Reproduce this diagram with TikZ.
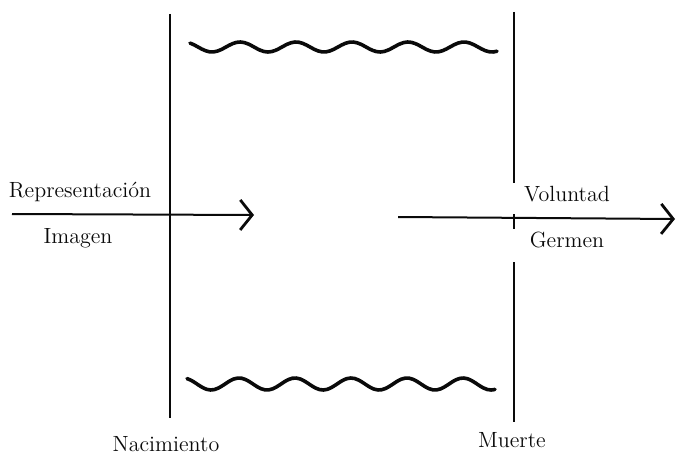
\documentclass[tikz,border=0pt]{standalone}
\usepackage{tikz}
\usetikzlibrary{arrows.meta, positioning}
\usepackage{xcolor}
\definecolor{ink}{RGB}{10,10,10}

\begin{document}
\begin{tikzpicture}[
    x=0.5pt, y=-0.5pt,
    label/.style={anchor=base, inner sep=0pt, font=\fontsize{11}{13}\selectfont, text=ink},
    limit/.style={line width=1.3pt, ink},
    arr/.style={-{Straight Barb[length=6pt, width=15pt, line width=1.4pt]}, line width=1pt, ink},
    wave/.style={line width=1.8pt, ink, line cap=round, smooth},
]
\useasboundingbox (0,0) rectangle (678,454);

% labels
\node[label] (rep) at (80,198) {Representación};
\node[label] (img) at (78,243) {Imagen};
\node[label] (vol) at (567,201) {Voluntad};
\node[label] (ger) at (567,247) {Germen};
\node[label] (nac) at (166,451) {Nacimiento};
\node[label] (mue) at (512,447) {Muerte};

% limits
\coordinate (nacTop) at (170,14);
\coordinate (nacBot) at (170,418);
\coordinate (mueTop) at (514,12);
\coordinate (mueA) at (514,183);
\coordinate (mueB) at (514,214);
\coordinate (mueC) at (514,229);
\coordinate (mueD) at (514,262);
\coordinate (mueBot) at (514,422);

\draw[limit] (nacTop) -- (nacBot);
\draw[limit] (mueTop) -- (mueA);
\draw[limit] (mueB) -- (mueC);
\draw[limit] (mueD) -- (mueBot);

% arrows
\coordinate (inStart) at (12,214);
\coordinate (inEnd) at (254,215);
\coordinate (outStart) at (398,217);
\coordinate (outEnd) at (675,219);

\draw[arr] (inStart) -- (inEnd);
\draw[arr] (outStart) -- (outEnd);

% waves
\draw[wave] plot[domain=190:497, samples=80] (\x, {47+5*cos(6.4286*(\x-212))});
\draw[wave] plot[domain=187:495, samples=80] (\x, {384+6*cos(6.4286*(\x-211))});

\end{tikzpicture}
\end{document}
